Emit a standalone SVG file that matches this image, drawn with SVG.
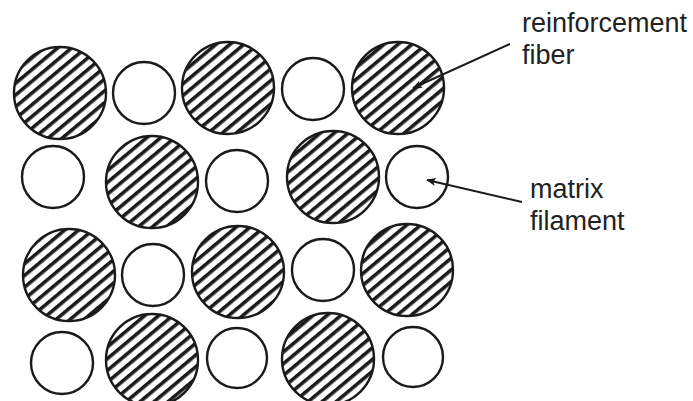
<svg xmlns="http://www.w3.org/2000/svg" width="693" height="401" viewBox="0 0 693 401">
<defs>
<pattern id="hatch" patternUnits="userSpaceOnUse" width="20" height="9" patternTransform="rotate(-40)">
<rect x="0" y="0" width="20" height="9" fill="#fff"/>
<rect x="0" y="0" width="20" height="3.6" fill="#1a1a1a"/>
</pattern>
<marker id="arr2" viewBox="0 0 12 10" refX="11" refY="5" markerWidth="12" markerHeight="8" markerUnits="userSpaceOnUse" orient="auto">
<path d="M0,0 L12,5 L0,10 L3,5 z" fill="#1a1a1a"/>
</marker>
</defs>
<style>
.f{fill:url(#hatch);stroke:#1a1a1a;stroke-width:2.4}
.m{fill:#fff;stroke:#1a1a1a;stroke-width:2.4}
.lbl{font-family:"Liberation Sans",Arial,sans-serif;font-size:27px;fill:#222}
.c{stroke:#1a1a1a;stroke-width:2;fill:none}
</style>
<rect width="693" height="401" fill="#fff"/>
<g id="row1">
<circle id="f11" class="f" cx="60" cy="93" r="46"/>
<circle id="m11" class="m" cx="144" cy="93" r="31"/>
<circle id="f12" class="f" cx="228" cy="88" r="46"/>
<circle id="m12" class="m" cx="313" cy="89" r="31"/>
<circle id="f13" class="f" cx="398" cy="88" r="46"/>
</g>
<g id="row2">
<circle id="m21" class="m" cx="53" cy="177" r="31"/>
<circle id="f21" class="f" cx="152" cy="182" r="46"/>
<circle id="m22" class="m" cx="237" cy="181" r="31"/>
<circle id="f22" class="f" cx="333" cy="177" r="46"/>
<circle id="m23" class="m" cx="417" cy="177" r="31"/>
</g>
<g id="row3">
<circle id="f31" class="f" cx="69" cy="275" r="46"/>
<circle id="m31" class="m" cx="153" cy="275" r="31"/>
<circle id="f32" class="f" cx="238" cy="272" r="46"/>
<circle id="m32" class="m" cx="323" cy="270" r="31"/>
<circle id="f33" class="f" cx="407" cy="270" r="46"/>
</g>
<g id="row4">
<circle id="m41" class="m" cx="62" cy="363" r="31"/>
<circle id="f41" class="f" cx="152" cy="360" r="46"/>
<circle id="m42" class="m" cx="237" cy="358" r="30"/>
<circle id="f42" class="f" cx="328" cy="359" r="46"/>
<circle id="m43" class="m" cx="413" cy="357" r="30"/>
</g>
<g id="connectors">
<line class="c" x1="510" y1="44" x2="413" y2="88" marker-end="url(#arr2)"/>
<line class="c" x1="522" y1="202" x2="427" y2="180" marker-end="url(#arr2)"/>
</g>
<g id="label-fiber">
<text class="lbl" x="522" y="32">reinforcement</text>
<text class="lbl" x="522" y="64">fiber</text>
</g>
<g id="label-matrix">
<text class="lbl" x="530" y="198">matrix</text>
<text class="lbl" x="530" y="230">filament</text>
</g>
</svg>
